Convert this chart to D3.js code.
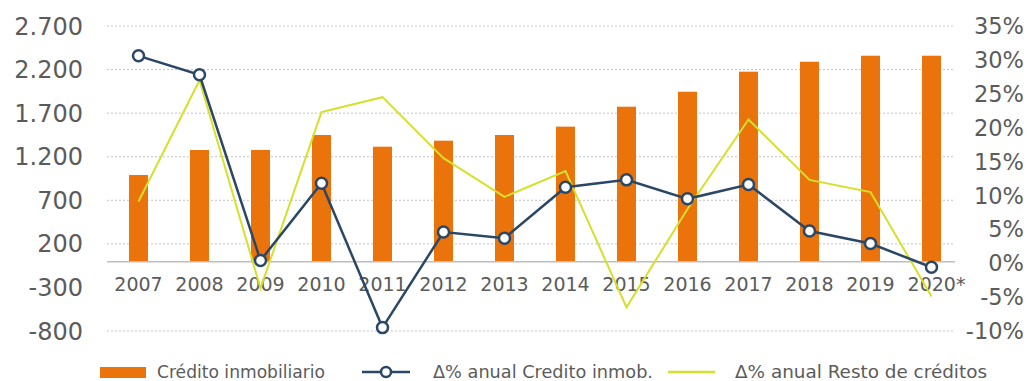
<!DOCTYPE html>
<html>
<head>
<meta charset="utf-8">
<script src="https://cdn.jsdelivr.net/npm/d3@7"></script>
<style>
  body { margin: 0; background: #fff; }
  svg text { font-family: "DejaVu Sans", sans-serif; fill: #5b5b5b; }
</style>
</head>
<body>
<div id="chart"></div>
<script>
// data
let years = ["2007", "2008", "2009", "2010", "2011", "2012", "2013", "2014", "2015", "2016", "2017", "2018", "2019", "2020*"];
let credito = [990, 1277, 1277, 1449, 1315, 1384, 1449, 1545, 1774, 1946, 2176, 2290, 2359, 2359];
let varCredito = [30.6, 27.8, 0.4, 11.8, -9.5, 4.6, 3.7, 11.2, 12.3, 9.5, 11.6, 4.75, 2.9, -0.6];
let varResto = [9.1, 27.0, -3.7, 22.3, 24.5, 15.5, 9.8, 13.6, -6.5, 8.0, 21.2, 12.3, 10.5, -4.9];
let leftTicks = [2700, 2200, 1700, 1200, 700, 200, -300, -800];
let rightTicks = [35, 30, 25, 20, 15, 10, 5, 0, -5, -10];

let width = 1032, height = 381;
let orange = "#EA730B", blue = "#2B4766", yellow = "#D5E02B";

let svg = d3.select("#chart").append("svg")
    .attr("width", width)
    .attr("height", height);

let x = d3.scaleBand().domain(years).range([108, 962]);
let yL = d3.scaleLinear().domain([-800, 2700]).range([331, 26]);
let yR = d3.scaleLinear().domain([-10, 35]).range([331, 26]);

// dotted gridlines (skip the -300 row, it sits under the year labels)
svg.append("g").selectAll("line")
    .data(leftTicks.filter(d => d != -300))
    .join("line")
    .attr("x1", 107).attr("x2", 955)
    .attr("y1", d => yL(d)).attr("y2", d => yL(d))
    .attr("stroke", "#c4c4c4")
    .attr("stroke-width", 1)
    .attr("stroke-dasharray", "2,2");

// left axis labels, spanish thousands separator, plain hyphen
let fmtLeft = d => String(d).replace(/(\d)(\d{3})$/, "$1.$2");
svg.append("g").selectAll("text")
    .data(leftTicks)
    .join("text")
    .attr("x", 83)
    .attr("y", d => yL(d))
    .attr("dy", "0.36em")
    .attr("text-anchor", "end")
    .style("font-size", "24px")
    .text(fmtLeft);

// right axis labels
svg.append("g").selectAll("text")
    .data(rightTicks)
    .join("text")
    .attr("x", 1024)
    .attr("y", d => yR(d))
    .attr("dy", "0.36em")
    .attr("text-anchor", "end")
    .style("font-size", "22.5px")
    .text(d => d + "%");

// bars
svg.append("g").selectAll("rect")
    .data(credito)
    .join("rect")
    .attr("x", (d, i) => x(years[i]) + x.bandwidth() / 2 - 9.5)
    .attr("width", 19)
    .attr("y", d => yL(d))
    .attr("height", d => yL(0) - yL(d))
    .attr("fill", orange);

// baseline
svg.append("line")
    .attr("x1", 107).attr("x2", 955)
    .attr("y1", yL(0) + 0.5).attr("y2", yL(0) + 0.5)
    .attr("stroke", "#bdbdbd")
    .attr("stroke-width", 1.5);

// year labels (the asterisk hangs past the centred year)
svg.append("g").selectAll("text")
    .data(years)
    .join("text")
    .attr("x", d => x(d) + x.bandwidth() / 2)
    .attr("y", 284)
    .attr("dx", d => d.endsWith("*") ? 5 : 0)
    .attr("dy", "0.36em")
    .attr("text-anchor", "middle")
    .style("font-size", "19px")
    .text(d => d);

let cx = (d, i) => x(years[i]) + x.bandwidth() / 2;

// yellow line
svg.append("path")
    .datum(varResto)
    .attr("d", d3.line().x(cx).y(d => yR(d)))
    .attr("fill", "none")
    .attr("stroke", yellow)
    .attr("stroke-width", 2);

// blue line + markers
svg.append("path")
    .datum(varCredito)
    .attr("d", d3.line().x(cx).y(d => yR(d)))
    .attr("fill", "none")
    .attr("stroke", blue)
    .attr("stroke-width", 2.5);

svg.append("g").selectAll("circle")
    .data(varCredito)
    .join("circle")
    .attr("cx", cx)
    .attr("cy", d => yR(d))
    .attr("r", 5.5)
    .attr("fill", "#fff")
    .attr("stroke", blue)
    .attr("stroke-width", 2.5);

// legend
let leg = svg.append("g").attr("transform", "translate(0,372)");
leg.append("rect").attr("x", 100).attr("y", -5).attr("width", 46).attr("height", 11).attr("fill", orange);
leg.append("text").attr("x", 157).attr("y", 0).attr("dy", "0.36em").style("font-size", "17px")
    .attr("textLength", 168).attr("lengthAdjust", "spacingAndGlyphs").text("Crédito inmobiliario");

leg.append("line").attr("x1", 362).attr("x2", 410).attr("y1", 0).attr("y2", 0)
    .attr("stroke", blue).attr("stroke-width", 2.5);
leg.append("circle").attr("cx", 386).attr("cy", 0).attr("r", 5)
    .attr("fill", "#fff").attr("stroke", blue).attr("stroke-width", 2.5);
leg.append("text").attr("x", 433).attr("y", 0).attr("dy", "0.36em").style("font-size", "17px")
    .attr("textLength", 220).attr("lengthAdjust", "spacingAndGlyphs").text("Δ% anual Credito inmob.");

leg.append("line").attr("x1", 668).attr("x2", 715).attr("y1", 0).attr("y2", 0)
    .attr("stroke", yellow).attr("stroke-width", 2.5);
leg.append("text").attr("x", 735).attr("y", 0).attr("dy", "0.36em").style("font-size", "17px")
    .attr("textLength", 252).attr("lengthAdjust", "spacingAndGlyphs").text("Δ% anual Resto de créditos");
</script>
</body>
</html>
